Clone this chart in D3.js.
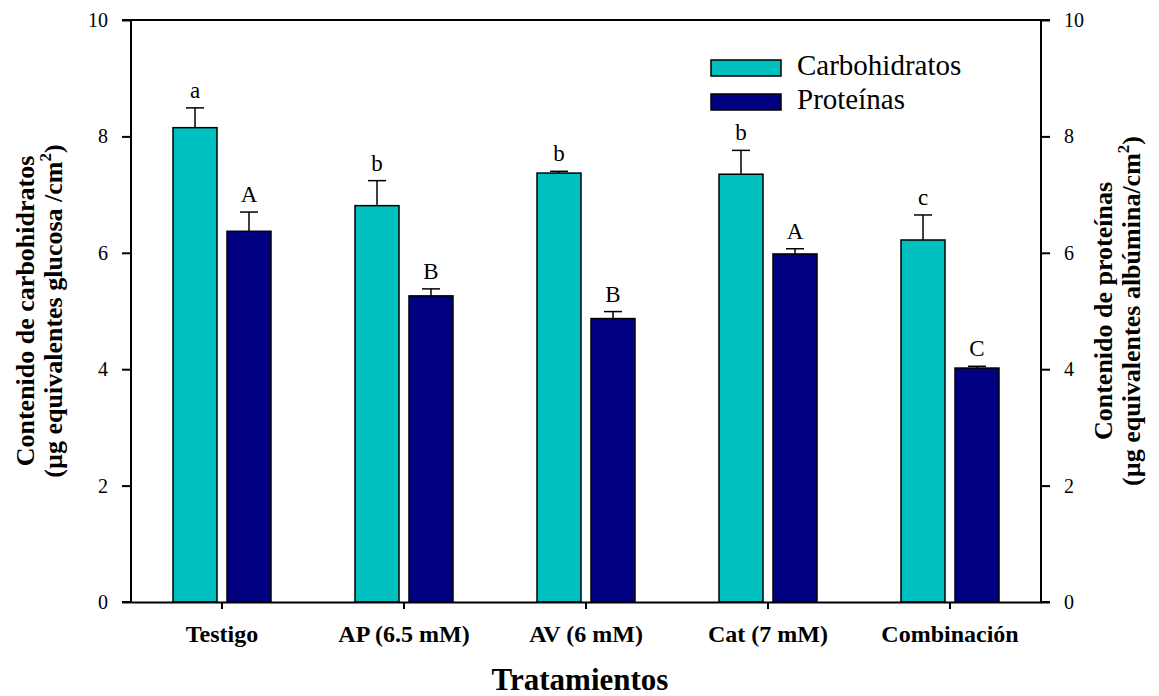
<!DOCTYPE html>
<html>
<head>
<meta charset="utf-8">
<script src="https://cdn.jsdelivr.net/npm/d3@7"></script>
<style>
  body { margin: 0; background: #fff; }
</style>
</head>
<body>
<svg id="chart" width="1159" height="696" font-family="'Liberation Serif', 'DejaVu Serif', serif"></svg>
<script>
// valores
const categories = ["Testigo", "AP (6.5 mM)", "AV (6 mM)", "Cat (7 mM)", "Combinación"];
const series = ["Carbohidratos", "Proteínas"];
const carbohidratos = [8.15, 6.81, 7.37, 7.35, 6.22];
const carbError = [0.34, 0.43, 0.03, 0.41, 0.43];
const proteinas = [6.37, 5.26, 4.87, 5.98, 4.02];
const protError = [0.33, 0.12, 0.12, 0.09, 0.03];
const carbLetters = ["a", "b", "b", "b", "c"];
const protLetters = ["A", "B", "B", "A", "C"];
const yTicks = [0, 2, 4, 6, 8, 10];
const colors = ["#00c0c0", "#000080"];

const FONT = "'Liberation Serif', 'DejaVu Serif', serif";
const svg = d3.select("#chart");
const mLeft = 131, mRight = 1041, mTop = 20, mBottom = 602;

const x = d3.scaleBand().domain(categories).range([mLeft, mRight]);
const x1 = d3.scaleBand().domain(series).range([0, x.bandwidth()])
    .paddingInner(10 / 54).paddingOuter(0.778);
const y = d3.scaleLinear().domain([0, 10]).range([mBottom, mTop]);

// filas para las barras
const rows = categories.flatMap((c, i) => [
    { cat: c, s: series[0], v: carbohidratos[i], e: carbError[i], l: carbLetters[i] },
    { cat: c, s: series[1], v: proteinas[i], e: protError[i], l: protLetters[i] }
]);
const cx = d => x(d.cat) + x1(d.s) + x1.bandwidth() / 2;

svg.append("g").selectAll("rect")
    .data(rows)
    .join("rect")
    .attr("x", d => x(d.cat) + x1(d.s))
    .attr("y", d => y(d.v))
    .attr("width", x1.bandwidth())
    .attr("height", d => y(0) - y(d.v))
    .attr("fill", d => colors[series.indexOf(d.s)])
    .attr("stroke", "#000")
    .attr("stroke-width", 1.5);

// barras de error (solo hacia arriba)
const err = svg.append("g").attr("stroke", "#000").attr("stroke-width", 1.5);
err.selectAll("line.v")
    .data(rows)
    .join("line")
    .attr("class", "v")
    .attr("x1", cx).attr("x2", cx)
    .attr("y1", d => y(d.v))
    .attr("y2", d => y(d.v + d.e));
err.selectAll("line.cap")
    .data(rows)
    .join("line")
    .attr("class", "cap")
    .attr("x1", d => cx(d) - 9)
    .attr("x2", d => cx(d) + 9)
    .attr("y1", d => y(d.v + d.e))
    .attr("y2", d => y(d.v + d.e));

// letras de significancia
svg.append("g").selectAll("text")
    .data(rows)
    .join("text")
    .attr("x", cx)
    .attr("y", d => y(d.v + d.e) - 10)
    .attr("text-anchor", "middle")
    .attr("font-family", FONT)
    .attr("font-size", 23)
    .text(d => d.l);

// ejes
const yLeft = svg.append("g")
    .attr("transform", `translate(${mLeft},0)`)
    .call(d3.axisLeft(y).tickValues(yTicks).tickSize(9).tickPadding(14));
const yRight = svg.append("g")
    .attr("transform", `translate(${mRight},0)`)
    .call(d3.axisRight(y).tickValues(yTicks).tickSize(9).tickPadding(14));
const xAxis = svg.append("g")
    .attr("transform", `translate(0,${mBottom})`)
    .call(d3.axisBottom(x).tickSize(7).tickPadding(16).tickSizeOuter(0));

[yLeft, yRight, xAxis].forEach(g => g.attr("font-family", FONT));
yLeft.attr("font-size", 20);
yRight.attr("font-size", 20);
xAxis.attr("font-size", 24).attr("font-weight", "bold");
svg.selectAll(".domain, .tick line").attr("stroke", "#000").attr("stroke-width", 2);
yLeft.select(".domain").attr("d", `M-9,${mTop}H0V${mBottom}H-9`);
yRight.select(".domain").attr("d", `M9,${mTop}H0V${mBottom}H9`);

// linea superior
svg.append("line")
    .attr("x1", mLeft).attr("x2", mRight)
    .attr("y1", mTop).attr("y2", mTop)
    .attr("stroke", "#000").attr("stroke-width", 2);

// leyenda
const legend = svg.append("g").attr("transform", "translate(711,60)");
series.forEach((s, i) => {
    legend.append("rect")
        .attr("x", 0).attr("y", i * 34)
        .attr("width", 70).attr("height", 16)
        .attr("fill", colors[i]).attr("stroke", "#000").attr("stroke-width", 1.5);
    legend.append("text")
        .attr("x", 86).attr("y", i * 34 + 15)
        .attr("font-family", FONT)
        .attr("font-size", 29)
        .text(s);
});

// titulos
svg.append("text")
    .attr("x", 580).attr("y", 690)
    .attr("text-anchor", "middle")
    .attr("font-family", FONT)
    .attr("font-size", 31).attr("font-weight", "bold")
    .text("Tratamientos");

function twoLineTitle(px, py, line1, pre) {
    const t = svg.append("text")
        .attr("transform", `translate(${px},${py}) rotate(-90)`)
        .attr("text-anchor", "middle")
        .attr("font-family", FONT)
        .attr("font-size", 26).attr("font-weight", "bold");
    t.append("tspan").attr("x", 0).attr("y", 0).text(line1);
    t.append("tspan").attr("x", 0).attr("y", 28).text(pre);
    t.append("tspan").attr("dy", -11).attr("font-size", 17).text("2");
    t.append("tspan").attr("dy", 11).text(")");
}

twoLineTitle(34, 311, "Contenido de carbohidratos", "(µg equivalentes glucosa /cm");
twoLineTitle(1112, 311, "Contenido de proteínas", "(µg equivalentes albúmina/cm");
</script>
</body>
</html>
